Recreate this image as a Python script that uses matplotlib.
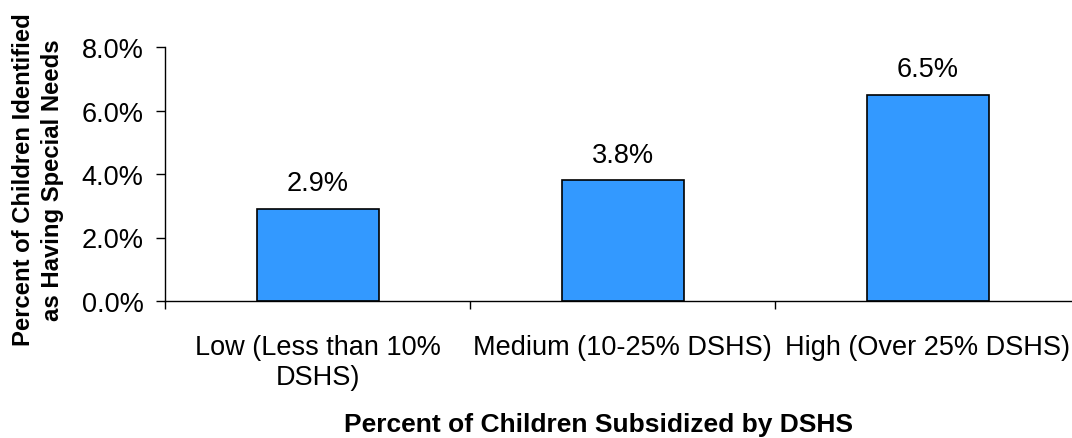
import numpy as np
import matplotlib.pyplot as plt
from matplotlib.ticker import FuncFormatter, FixedLocator

plt.rcParams['font.family'] = ['Liberation Sans', 'DejaVu Sans']

categories = ['Low (Less than 10%\nDSHS)', 'Medium (10-25% DSHS)', 'High (Over 25% DSHS)']
values = [2.9, 3.8, 6.5]
yticks = [0, 2, 4, 6, 8]

fig = plt.figure(figsize=(10.72, 4.39), dpi=100)
ax = fig.add_axes([165/1072, 137/439, 915/1072, 254/439])

x = np.arange(len(categories))
ax.bar(x, values, width=0.4, color='#3399FF', edgecolor='black', linewidth=1.2)

for xi, v in zip(x, values):
    ax.annotate(f'{v:.1f}%', (xi, v), xytext=(0, 9), textcoords='offset points',
                ha='center', va='bottom', fontsize=19.5)

ax.set_xlim(-0.5, 2.5)
ax.set_ylim(0, 8)
ax.set_yticks(yticks)
ax.yaxis.set_major_formatter(FuncFormatter(lambda v, p: f'{v:.1f}%'))
ax.tick_params(axis='y', labelsize=19.5, length=6.5, width=1, direction='out', pad=9)

ax.set_xticks(x)
ax.set_xticklabels(categories, fontsize=19.5)
ax.xaxis.set_minor_locator(FixedLocator([-0.5, 0.5, 1.5, 2.5]))
ax.tick_params(axis='x', which='major', length=0, pad=24)
ax.tick_params(axis='x', which='minor', length=6, width=1, direction='out')

for s in ['top', 'right']:
    ax.spines[s].set_visible(False)
for s in ['left', 'bottom']:
    ax.spines[s].set_linewidth(1)

ax.set_ylabel('Percent of Children Identified\nas Having Special Needs',
              fontsize=17.2, fontweight='bold', linespacing=1.35)
ax.yaxis.set_label_coords((64 - 165)/915, 0.48)
fig.text(598/1072, 1 - 425/439, 'Percent of Children Subsidized by DSHS',
         ha='center', va='center', fontsize=19, fontweight='bold')

fig.savefig('out.png', dpi=100)
